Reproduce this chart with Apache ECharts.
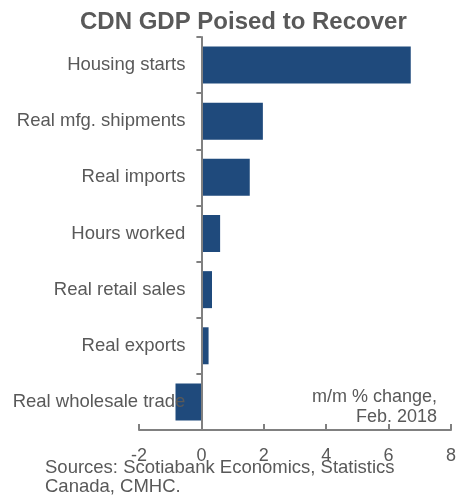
<!DOCTYPE html>
<html>
<head>
<meta charset="utf-8">
<script src="https://cdn.jsdelivr.net/npm/echarts@6/dist/echarts.min.js"></script>
<style>
  html, body { margin: 0; padding: 0; background: #fff; }
  #chart { width: 458px; height: 503px; }
</style>
</head>
<body>
<div id="chart"></div>
<script>
// Monthly % change by indicator, Feb. 2018 (top to bottom)
const categories = [
  'Housing starts',
  'Real mfg. shipments',
  'Real imports',
  'Hours worked',
  'Real retail sales',
  'Real exports',
  'Real wholesale trade'
];
const changes = [6.71, 1.97, 1.55, 0.60, 0.34, 0.23, -0.83];
const xTicks = { min: -2, max: 8, step: 2 };

const textGray = '#595959';
const axisGray = '#808080';
const barBlue = '#1f4a7c';
const font = 'Liberation Sans, Arial, sans-serif';

const gridLeft = 139;
const gridRight = 7;
const plotWidth = 458 - gridLeft - gridRight;
// shift the category axis so it sits on the zero line, labels included
const zeroShift = plotWidth * (0 - xTicks.min) / (xTicks.max - xTicks.min);

const chart = echarts.init(document.getElementById('chart'));
chart.setOption({
  animation: false,
  title: {
    text: 'CDN GDP Poised to Recover',
    left: 75,
    top: 5,
    textStyle: { fontFamily: font, fontWeight: 'bold', fontSize: 24, color: textGray }
  },
  grid: { left: gridLeft, right: gridRight, top: 37, bottom: 73, containLabel: false, outerBoundsMode: 'none' },
  xAxis: {
    type: 'value',
    min: xTicks.min,
    max: xTicks.max,
    interval: xTicks.step,
    splitLine: { show: false },
    axisLine: { show: true, lineStyle: { color: axisGray, width: 2 } },
    axisTick: { show: true, inside: true, length: 6, lineStyle: { color: axisGray, width: 2 } },
    axisLabel: { fontFamily: font, fontSize: 18, color: textGray, margin: 17 }
  },
  yAxis: {
    type: 'category',
    data: categories,
    inverse: true,
    offset: -zeroShift,
    z: 5,
    axisLine: { show: true, onZero: false, lineStyle: { color: axisGray, width: 2 } },
    axisTick: { show: true, length: 5, lineStyle: { color: axisGray, width: 2 } },
    axisLabel: { fontFamily: font, fontSize: 18.5, color: textGray, margin: 16 }
  },
  series: [{
    type: 'bar',
    data: changes,
    barWidth: 37,
    itemStyle: { color: barBlue },
    z: 2
  }],
  graphic: [
    {
      type: 'text',
      right: 21,
      top: 387,
      style: {
        text: 'm/m % change,\nFeb. 2018',
        textAlign: 'right',
        font: '18px ' + font,
        fill: textGray,
        lineHeight: 20
      }
    },
    {
      type: 'text',
      left: 45,
      top: 458,
      style: {
        text: 'Sources: Scotiabank Economics, Statistics\nCanada, CMHC.',
        font: '18.5px ' + font,
        fill: textGray,
        lineHeight: 19
      }
    }
  ]
});
</script>
</body>
</html>
